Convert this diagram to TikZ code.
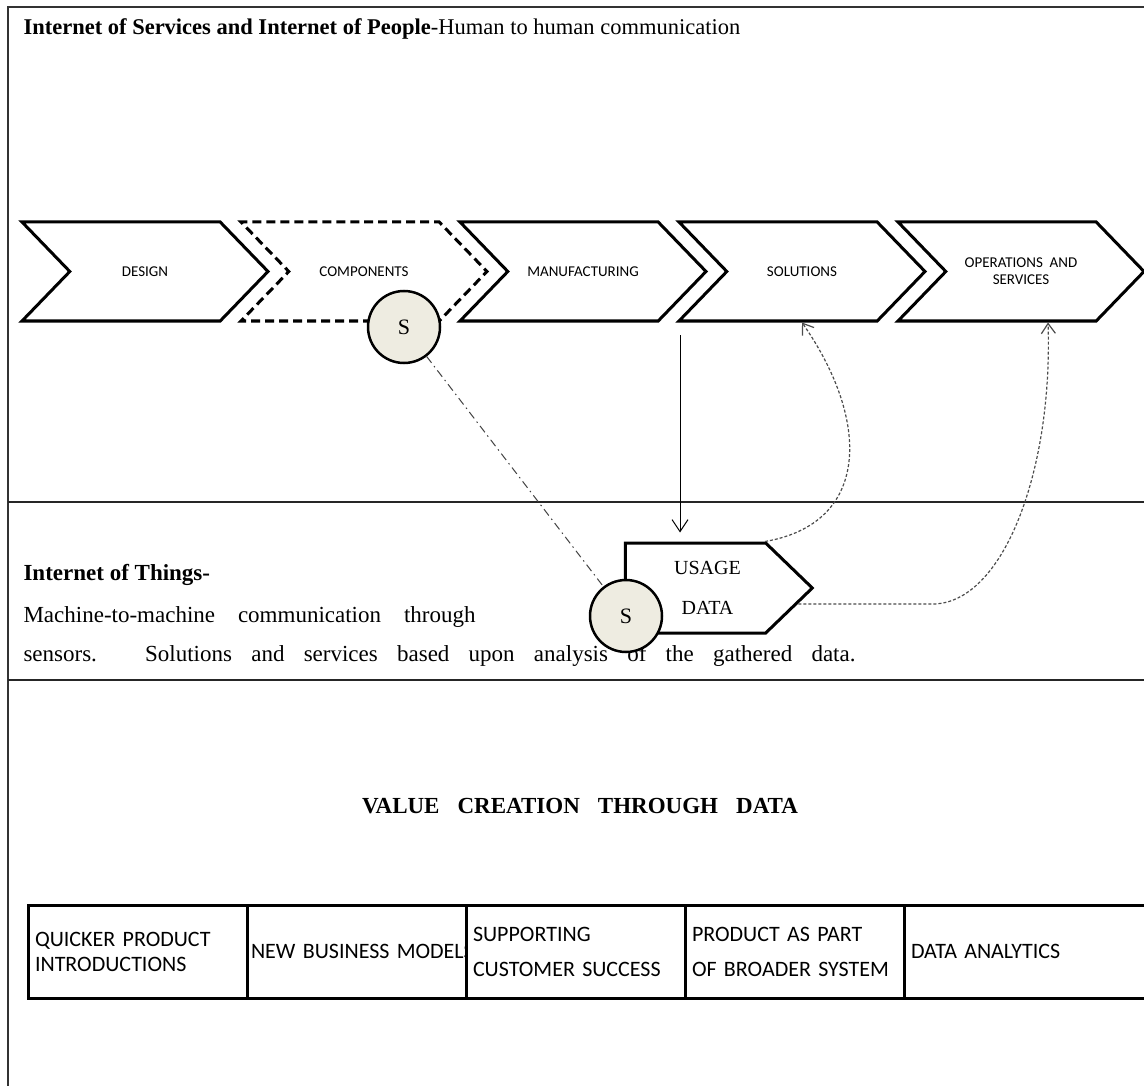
\documentclass[tikz,border=0pt]{standalone}
\usepackage{fontspec}
\setmainfont{Liberation Serif}
\newfontfamily\calfont{Carlito}
\usetikzlibrary{positioning, arrows.meta, calc, shapes.symbols}
\definecolor{sfill}{RGB}{238,236,225}

\begin{document}
\begin{tikzpicture}[
    x=1pt, y=-1pt,
    stage/.style={signal, signal to=east, signal from=west, signal pointer angle=92, draw, line width=3pt, minimum width=246pt, minimum height=99pt, inner sep=0pt, align=center, font=\calfont\fontsize{15}{17}\selectfont},
    usagebox/.style={signal, signal to=east, signal pointer angle=88, draw, line width=3pt, minimum width=187pt, minimum height=90pt, inner sep=0pt, align=center, font=\fontsize{20}{40}\selectfont},
    sensor/.style={circle, draw, line width=2.5pt, fill=sfill, minimum size=72pt, inner sep=0pt, font=\fontsize{22}{24}\selectfont},
    cell/.style={rectangle, draw, fill=white, line width=3pt, minimum width=219pt, minimum height=93pt, text width=205pt, align=left, inner sep=0pt, font=\calfont\fontsize{22}{25}\selectfont},
    sep/.style={line width=1.6pt, draw=black!85},
    arrow/.style={-{Straight Barb[length=12pt, width=16pt]}, line width=1pt},
    darrow/.style={-{Straight Barb[length=10pt, width=14pt]}, line width=1.2pt, draw=black!70, dash pattern=on 3pt off 2pt},
    link/.style={line width=1pt, draw=black!75, dash pattern=on 8pt off 4pt on 1.5pt off 4pt}
]
\useasboundingbox (0,0) rectangle (1144,1086);

% Frame and section lines
\draw[line width=2pt, draw=black!80] (8,1086) -- (8,7) -- (1144,7);
\draw[sep] (8,502) -- (1144,502);
\draw[sep] (8,680) -- (1144,680);

% Section texts
\node[anchor=base west, font=\fontsize{22.5}{25}\selectfont] (title) at (20,35) {\textbf{Internet of Services and Internet of People}-Human to human communication};
\node[anchor=base west, font=\bfseries\fontsize{23}{25}\selectfont] (iothead) at (20,580) {Internet of Things-};
\node[anchor=base west, font=\fontsize{23}{25}\selectfont] (iotline1) at (20,622) {\makebox[452pt][s]{Machine-to-machine communication through}};
\node[anchor=base west, font=\fontsize{23}{25}\selectfont] (iotline2) at (20,661) {\makebox[832pt][s]{sensors. Solutions and services based upon analysis of the gathered data.}};
\node[font=\bfseries\fontsize{23}{25}\selectfont] (value) at (580,806) {\makebox[436pt][s]{VALUE CREATION THROUGH DATA}};

% Value chain
\node[stage] (design) at (145,271.5) {DESIGN};
\node[stage, dash pattern=on 9pt off 5pt] (comp) at (364,271.5) {COMPONENTS};
\node[stage] (manu) at (583,271.5) {MANUFACTURING};
\node[stage] (sol) at (802,271.5) {SOLUTIONS};
\node[stage] (ops) at (1021,271.5) {OPERATIONS\ \ AND\\SERVICES};

% Usage data and sensors
\node[usagebox] (usage) at (695.5,588) {\hspace*{24pt}USAGE\\\hspace*{24pt}DATA};
\node[sensor] (s1) at (404,327) {S};
\node[sensor] (s2) at (626,616) {S};

% Data flows
\coordinate (mfgdrop) at (680,335);
\draw[arrow, shorten >=9pt] (mfgdrop) -- (mfgdrop |- usage.north);
\draw[darrow] ([xshift=69.5pt]usage.north) .. controls +(105,-18) and +(69,99) .. (sol.south);
\draw[darrow] ([xshift=-16pt,yshift=-16pt]usage.east) -- ++(134,0) .. controls +(70,0) and +(5,150) .. ([xshift=27pt]ops.south);
\draw[link] (s1) -- (s2);

% Value creation table
\node[cell] (quick) at (137.5,951.5) {QUICKER PRODUCT\\INTRODUCTIONS};
\node[cell, right=-3pt of quick] (models) {\hspace*{-3pt}\mbox{NEW BUSINESS MODELS}};
\node[cell, right=-3pt of models] (support) {SUPPORTING\\[10pt]CUSTOMER SUCCESS};
\node[cell, right=-3pt of support] (broader) {PRODUCT AS PART\\[10pt]OF BROADER SYSTEM};
\node[cell, right=-3pt of broader, minimum width=260pt, text width=246pt] (analytics) {DATA ANALYTICS};

\end{tikzpicture}
\end{document}
